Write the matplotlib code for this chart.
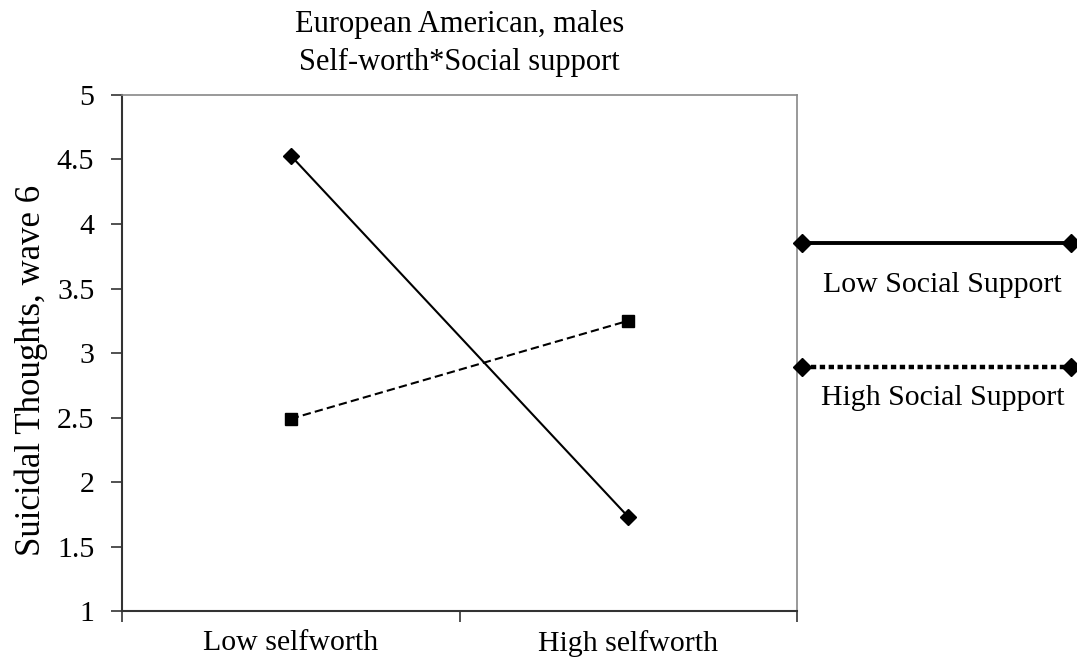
import matplotlib.pyplot as plt
from matplotlib.lines import Line2D

plt.rcParams['font.family'] = ['Liberation Serif', 'DejaVu Serif']

# data
categories = ['Low selfworth', 'High selfworth']
low_support = [4.53, 1.73]
high_support = [2.49, 3.25]
series_names = ['Low Social Support', 'High Social Support']

fig = plt.figure(figsize=(10.77, 6.68), dpi=100)
ax = fig.add_axes([0.1133, 0.0853, 0.6267, 0.7725])

xs = [0.5, 1.5]
ax.plot(xs, low_support, color='black', lw=1.5, marker='D', ms=8.5, mfc='black', mec='black')
ax.plot(xs, high_support, color='black', lw=1.5, ls=(0, (4, 2)), marker='s', ms=9, mfc='black', mec='black')

ax.set_xlim(0, 2)
ax.set_ylim(1, 5)
ax.set_yticks([1, 1.5, 2, 2.5, 3, 3.5, 4, 4.5, 5])
ax.set_yticklabels(['1', '1.5', '2', '2.5', '3', '3.5', '4', '4.5', '5'])
ax.set_xticks([0, 1, 2])
ax.set_xticklabels([])
ax.set_xticks(xs, minor=True)
ax.set_xticklabels(categories, minor=True)
ax.tick_params(axis='x', which='minor', length=0, pad=14, labelsize=21.5)
ax.tick_params(axis='x', which='major', length=8, width=1.2, direction='out', color='#333333')
ax.tick_params(axis='y', length=8, width=1.2, direction='out', labelsize=21.5, pad=12, color='#333333')

for s in ['left', 'bottom']:
    ax.spines[s].set_color('#333333')
    ax.spines[s].set_linewidth(1.5)
for s in ['top', 'right']:
    ax.spines[s].set_color('#888888')
    ax.spines[s].set_linewidth(1.2)

ax.set_ylabel('Suicidal Thoughts, wave 6', fontsize=25)
ax.yaxis.set_label_coords(-0.1096, 0.467)
ax.set_title('European American, males\nSelf-worth*Social support', fontsize=22, pad=18, linespacing=1.42)

# legend drawn by hand
fig.add_artist(Line2D([0.745, 0.994], [0.636, 0.636], transform=fig.transFigure,
                      color='black', lw=2.8, marker='D', ms=9, markevery=[0, 1]))
fig.text(0.875, 0.573, series_names[0], ha='center', va='center', fontsize=21.5)
fig.add_artist(Line2D([0.745, 0.994], [0.451, 0.451], transform=fig.transFigure,
                      color='black', lw=3.2, ls=(0, (1.2, 0.8)), marker='D', ms=9, markevery=[0, 1]))
fig.text(0.875, 0.404, series_names[1], ha='center', va='center', fontsize=21.5)

fig.savefig('out.png', dpi=100)
